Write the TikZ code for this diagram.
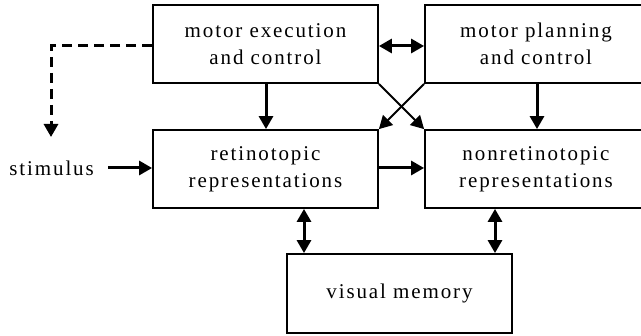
\documentclass[tikz,border=0pt]{standalone}
\usepackage{fontspec}
\setmainfont[LetterSpace=9]{Liberation Serif}
\usetikzlibrary{arrows.meta}
\tikzset{
  labeltext/.style={font=\fontsize{21}{27}\selectfont},
  blockbox/.style={draw, line width=1.8pt, minimum width=225pt, minimum height=78pt,
    inner sep=0pt, align=center, labeltext},
  link/.style={line width=3pt, -{Triangle[length=13pt,width=14pt]}},
  twoway/.style={line width=3pt, {Triangle[length=13pt,width=14pt]}-{Triangle[length=13pt,width=14pt]}},
  thinlink/.style={line width=1.8pt, -{Triangle[length=13pt,width=14pt]}},
  feedback/.style={line width=3pt, dash pattern=on 10pt off 6pt, -{Triangle[length=13pt,width=14pt]}},
}
\begin{document}
\begin{tikzpicture}[x=1pt,y=-1pt]
\useasboundingbox (0,0) rectangle (641,336);
\clip (0,0) rectangle (641,336);
% boxes
\node[blockbox] (exec) at (265.5,44) {motor execution\\and control};
\node[blockbox, minimum width=222pt] (plan) at (536,44) {motor planning\\and control};
\node[blockbox] (retino) at (265.5,169) {retinotopic\\representations};
\node[blockbox, minimum width=222pt] (nonret) at (536,169) {nonretinotopic\\representations};
\node[blockbox, minimum height=79pt] (mem) at (399.5,293.5) {visual memory};
\node[labeltext, anchor=east, inner sep=0pt] (stim) at (94,168) {stimulus};
% dashed feedback from execution
\coordinate (dcorner) at (51,46);
\coordinate (dend) at (51,137);
\draw[feedback] (exec.west |- dcorner) -- (dcorner) -- (dend);
% connectors
\draw[link] (stim.east) ++(14,0) coordinate (sstart) -- (retino.west |- sstart);
\draw[twoway] (exec.east |- 0,46) coordinate (e1) -- (plan.west |- e1);
\draw[link] (exec.south -| 266,0) -- (retino.north -| 266,0);
\draw[link] (plan.south -| 537,0) -- (nonret.north -| 537,0);
\draw[thinlink] (exec.south east) -- (nonret.north west);
\draw[thinlink] (plan.south west) -- (retino.north east);
\draw[link] (retino.east |- 0,168) -- (nonret.west |- 0,168);
\draw[twoway] (retino.south -| 304,0) -- (mem.north -| 304,0);
\draw[twoway] (nonret.south -| 495,0) -- (mem.north -| 495,0);
\end{tikzpicture}
\end{document}
